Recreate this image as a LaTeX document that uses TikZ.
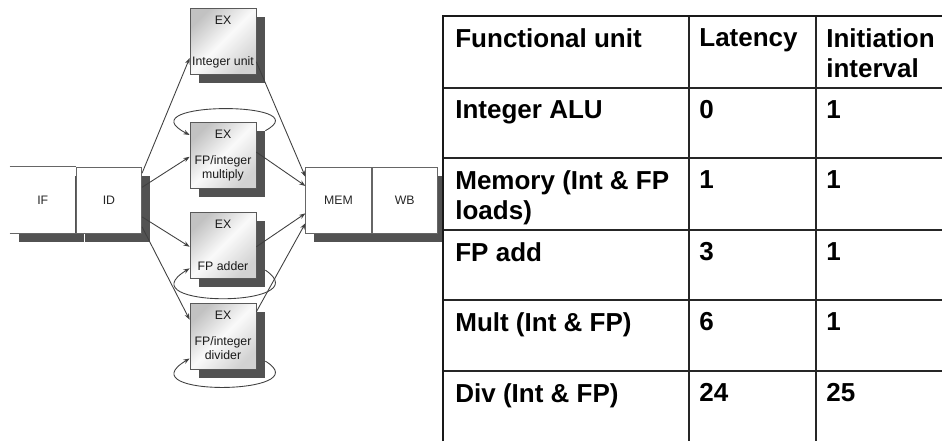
\documentclass[tikz,border=0pt]{standalone}
\usepackage{fontspec}
\setsansfont{Liberation Sans}
\usetikzlibrary{positioning,arrows.meta,shadows}

\begin{document}
\begin{tikzpicture}[x=0.02cm, y=-0.02cm, >=Stealth,
    etapa/.style={draw=black!60, fill=white, rectangle, minimum width=1.31cm, minimum height=1.32cm, inner sep=0pt,
      font=\fontsize{7}{8}\selectfont\sffamily, text=black!85,
      drop shadow={shadow xshift=0.17cm, shadow yshift=-0.17cm, fill=black!68, opacity=1}},
    unidad/.style={draw=black!65, rectangle, minimum width=1.32cm, minimum height=1.32cm, inner sep=0pt,
      top color=gray!48, bottom color=gray!35, middle color=gray!4, shading angle=45,
      drop shadow={shadow xshift=0.18cm, shadow yshift=-0.18cm, fill=black!68, opacity=1}},
    rotulo/.style={inner sep=0pt, align=center, font=\fontsize{7}{8}\selectfont\sffamily, text=black!90},
    flecha/.style={-{Stealth[length=3.6pt,width=2.6pt]}, draw=black!75, line width=0.5pt},
    celda/.style={anchor=north west, inner sep=0pt, align=left, font=\fontsize{14.8}{17}\selectfont\sffamily\bfseries}]

  \useasboundingbox (0,0) rectangle (942,441);

  % Etapas del pipeline (IF/ID a la izquierda, MEM/WB a la derecha)
  \node[etapa, draw=none] (IF) at (42.75,200) {IF};
  \node[etapa, right=0pt of IF] (ID) {ID};
  \draw[black!60] (IF.north west) -- (IF.north east) (IF.south west) -- (IF.south east);
  \node[etapa] (MEM) at (338.5,200) {MEM};
  \node[etapa, right=0pt of MEM] (WB) {WB};

  % Unidades EX (de arriba hacia abajo)
  \node[unidad] (int) at (223,41) {};
  \node[unidad] (mul) at (223,155) {};
  \node[unidad] (add) at (223,245) {};
  \node[unidad] (div) at (223,336) {};

  % Textos dentro de las unidades
  \node[rotulo, below=0.16cm of int.north] (int-ex) {EX};
  \node[rotulo, below=0.98cm of int.north] (int-txt) {Integer unit};
  \node[rotulo, below=0.16cm of mul.north] (mul-ex) {EX};
  \node[rotulo, below=0.68cm of mul.north] (mul-txt) {FP/integer\\multiply};
  \node[rotulo, below=0.16cm of add.north] (add-ex) {EX};
  \node[rotulo, below=1.0cm of add.north] (add-txt) {FP adder};
  \node[rotulo, below=0.16cm of div.north] (div-ex) {EX};
  \node[rotulo, below=0.68cm of div.north] (div-txt) {FP/integer\\divider};

  % Conexiones ID -> EX
  \draw[flecha] (ID.39) -- (int.207);
  \draw[flecha] (ID.21) -- (mul.183);
  \draw[flecha] (ID.-27) -- (add.183);
  \draw[flecha] (ID.-39) -- (div.154);

  % Conexiones EX -> MEM
  \draw[flecha] (int.328) -- (MEM.145);
  \draw[flecha] (mul.5) -- (MEM.157);
  \draw[flecha] (add.-3) -- (MEM.202);
  \draw[flecha] (div.36) -- (MEM.215);

  % Lazos de las unidades segmentadas
  \draw[flecha] ([shift={(9,9)}]mul.north east) .. controls +(56,-30) and +(-66,-34) .. (mul.149);
  \draw[flecha] ([xshift=0.18cm]add.-37) .. controls +(56,38) and +(-66,40) .. (add.215);
  \draw[flecha] ([xshift=0.18cm]div.-37) .. controls +(56,34) and +(-66,39) .. (div.214);

  % Tabla de latencias
  \fill[white] (443,16) rectangle (942,441);
  \foreach \y in {88,158,230,300,371} \draw[black!85, line width=0.8pt] (443,\y) -- (942,\y);
  \draw[black!85, line width=0.8pt] (689,16) -- (689,441) (816,16) -- (816,441);
  \draw[black!90, line width=1.3pt] (443,441) -- (443,16) -- (942,16);

  \node[celda] (h1) at (455,28) {Functional unit};
  \node[celda] (h2) at (699,28) {Latency};
  \node[celda] (h3) at (826,28) {Initiation\\interval};
  \node[celda] (a1) at (455,100) {Integer ALU};
  \node[celda] (a2) at (699,100) {0};
  \node[celda] (a3) at (826,100) {1};
  \node[celda] (b1) at (455,170) {Memory (Int \& FP\\loads)};
  \node[celda] (b2) at (699,170) {1};
  \node[celda] (b3) at (826,170) {1};
  \node[celda] (c1) at (455,242) {FP add};
  \node[celda] (c2) at (699,242) {3};
  \node[celda] (c3) at (826,242) {1};
  \node[celda] (d1) at (455,312) {Mult (Int \& FP)};
  \node[celda] (d2) at (699,312) {6};
  \node[celda] (d3) at (826,312) {1};
  \node[celda] (e1) at (455,383) {Div (Int \& FP)};
  \node[celda] (e2) at (699,383) {24};
  \node[celda] (e3) at (826,383) {25};

\end{tikzpicture}
\end{document}
